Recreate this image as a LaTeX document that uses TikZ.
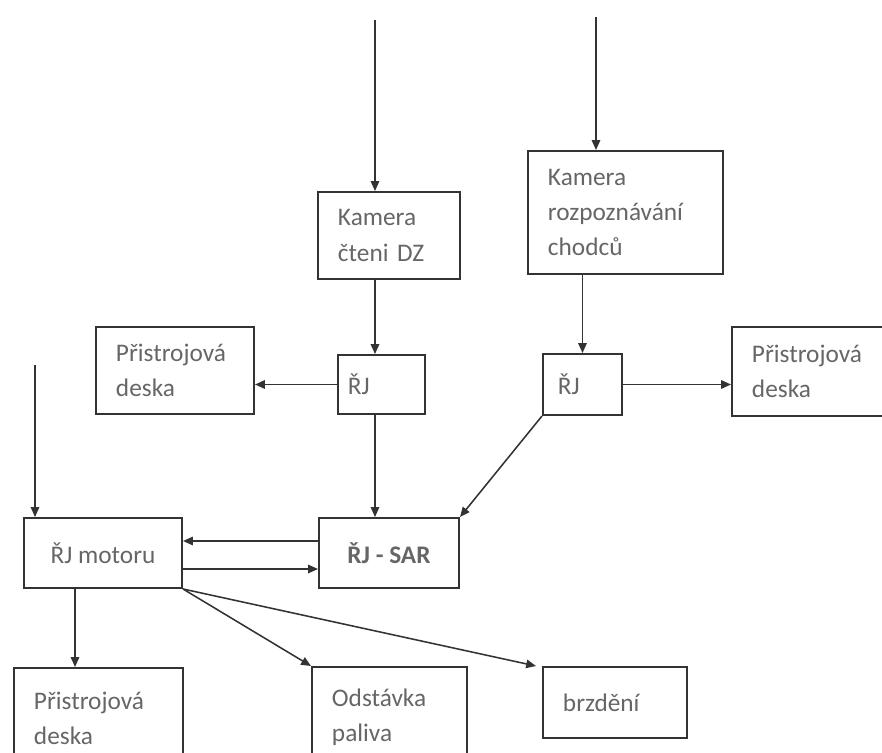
\documentclass[tikz,border=0pt]{standalone}
\usepackage{fontspec}
\setmainfont{Carlito}
\usetikzlibrary{arrows.meta}

\tikzset{
  box/.style={draw=black!80, line width=1.4pt, anchor=north west, align=left,
    inner xsep=0.5cm, inner ysep=2pt, text=black!60,
    font=\fontsize{18}{25}\selectfont},
  midbox/.style={box, align=center, inner xsep=0pt},
  flow/.style={->, draw=black!80, line width=1.1pt}
}

\begin{document}
\begin{tikzpicture}[x=0.025cm,y=-0.025cm,>={Triangle[length=7pt,width=6pt]}]
\useasboundingbox (0,0) rectangle (882,752);
% ---------- cameras ----------
\node[box, text width=2.55cm, minimum height=2.175cm] (camDZ) at (317,191) {Kamera\\čteni DZ};
\node[box, text width=3.875cm, minimum height=3.075cm] (camCh) at (527,150) {Kamera\\rozpoznávání\\chodců};
\coordinate (inDZ) at (375,20);
\coordinate (inCh) at (596,17);
\coordinate (inMot) at (35,365);
% ---------- control units ----------
\node[box, inner xsep=0.25cm, text width=1.675cm, minimum height=1.475cm] (rjL) at (337,354) {ŘJ};
\node[box, inner xsep=0.375cm, text width=1.225cm, minimum height=1.525cm] (rjR) at (542,353) {ŘJ};
\node[box, text width=2.95cm, minimum height=2.175cm] (deskaL) at (95,326) {Přistrojová\\deska};
\node[box, text width=3.25cm, minimum height=2.225cm] (deskaR) at (731,326) {Přistrojová\\deska};
\node[midbox, minimum width=3.5cm, minimum height=1.75cm, font=\fontsize{18}{25}\selectfont\bfseries] (sar) at (318,517) {ŘJ - SAR};
\node[midbox, minimum width=3.95cm, minimum height=1.75cm] (motor) at (23,517) {ŘJ motoru};
% ---------- outputs ----------
\node[box, text width=3.225cm, minimum height=2.5cm] (deskaB) at (13,667) {Přistrojová\\deska};
\node[box, text width=2.875cm, minimum height=2.5cm] (odst) at (311,666) {Odstávka\\paliva};
\node[box, text width=2.6cm, minimum height=1.775cm] (brzd) at (542,666) {brzdění};
% ---------- connectors ----------
\draw[flow] (inDZ) -- (inDZ |- camDZ.north);
\draw[flow] (inDZ |- camDZ.south) -- (inDZ |- rjL.north);
\draw[flow] (inDZ |- rjL.south) -- (inDZ |- sar.north);
\draw[flow] (rjL.west) -- (rjL.west -| deskaL.east);
\draw[flow] (inCh) -- (inCh |- camCh.north);
\draw[flow] (rjR.north |- camCh.south) -- (rjR.north);
\draw[flow] (rjR.east) -- (rjR.east -| deskaR.west);
\draw[flow] (rjR.south west) -- (sar.north east);
\draw[flow] (inMot) -- (inMot |- motor.north);
\draw[flow] ([yshift=0.3cm]sar.west) -- ([yshift=0.3cm]sar.west -| motor.east);
\draw[flow] ([yshift=-0.4cm]motor.east) -- ([yshift=-0.4cm]motor.east -| sar.west);
\draw[flow] ([xshift=1.3cm]motor.south west) -- ([xshift=1.3cm]motor.south west |- deskaB.north);
\draw[flow] (motor.south east) -- (odst.north west);
\draw[flow] (motor.south east) -- ([xshift=-0.15cm]brzd.north west);
\end{tikzpicture}
\end{document}
